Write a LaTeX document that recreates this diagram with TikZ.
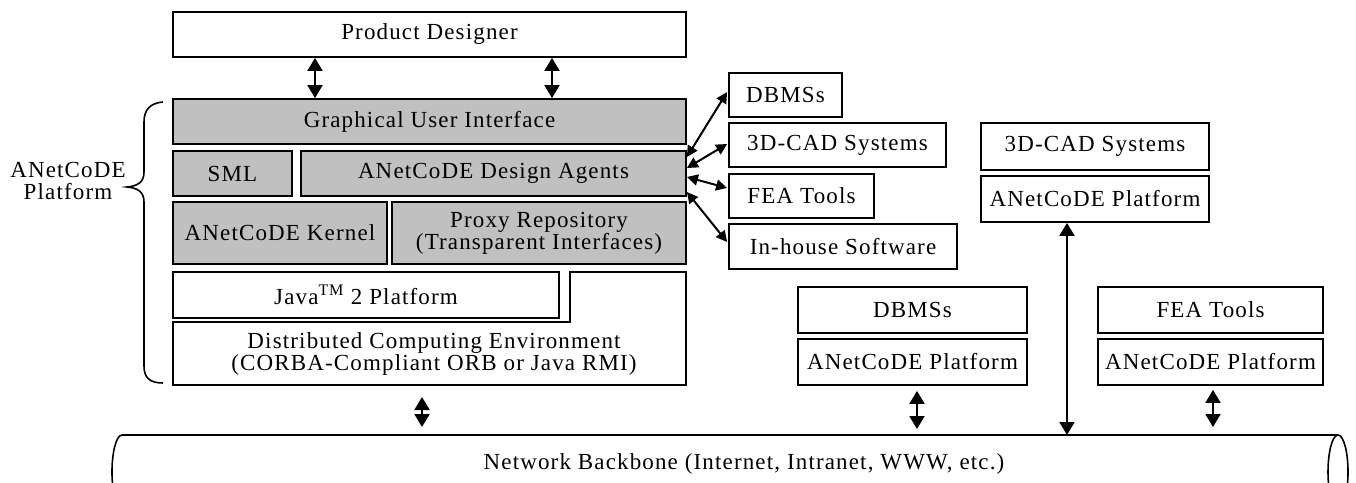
\documentclass[tikz,border=0pt]{standalone}
\usepackage{fontspec}
\setmainfont{Liberation Serif}[LetterSpace=5]
\usetikzlibrary{arrows.meta}
\definecolor{layergray}{HTML}{C0C0C0}
\begin{document}
\begin{tikzpicture}[x=1pt,y=-1pt,
  every node/.style={font=\fontsize{23}{22}\selectfont, inner sep=0pt},
  box/.style={draw, line width=1.8pt},
  layer/.style={box, fill=layergray},
  link/.style={line width=2pt, {Triangle[length=13pt,width=15pt]}-{Triangle[length=13pt,width=15pt]}},
  slink/.style={line width=2pt, {Triangle[length=11pt,width=11pt]}-{Triangle[length=11pt,width=11pt]}}
]
\useasboundingbox (0,0) rectangle (1356,482);
\clip (0,0) rectangle (1356,482);

% user on top
\node[box, minimum width=513pt, minimum height=45pt] (pd) at (429.5,34.5) {Product Designer};

% platform layers
\node[layer, minimum width=513pt, minimum height=45pt] (gui) at (429.5,121.5) {Graphical User Interface};
\node[layer, minimum width=119pt, minimum height=45pt] (sml) at (232.5,173.5) {SML};
\node[layer, minimum width=385pt, minimum height=45pt] (da) at (493.5,173.5) {ANetCoDE Design Agents};
\node[layer, minimum width=214pt, minimum height=62pt] (ker) at (280,233) {ANetCoDE Kernel};
\node[layer, minimum width=294pt, minimum height=62pt, align=center] (prx) at (539,233) {Proxy Repository\\(Transparent Interfaces)};
\node[box, minimum width=386pt, minimum height=46pt] (jav) at (366,295) {Java\textsuperscript{TM} 2 Platform};

% distributed computing environment (stepped outline)
\draw[line width=1.8pt] (173,322) -- (570,322) -- (570,272) -- (686,272) -- (686,385) -- (173,385) -- cycle;
\node[align=center] (dce) at (434,353.5) {Distributed Computing Environment\\(CORBA-Compliant ORB or Java RMI)};
\coordinate (dcebot) at (422,385);

% brace and platform label
\draw[line width=1.6pt] (163,102) .. controls (150,103) and (144,110) .. (144,122) -- (144,172)
  .. controls (144,182) and (138,186) .. (127,187) .. controls (138,188) and (144,192) .. (144,202)
  -- (144,366) .. controls (144,378) and (150,383) .. (163,383);
\node[align=center] (plat) at (68,181) {ANetCoDE\\Platform};

% local tools
\node[box, minimum width=113pt, minimum height=44pt] (rdb) at (785.5,95) {DBMSs};
\node[box, minimum width=217pt, minimum height=44pt] (rcad) at (837.5,145) {3D-CAD Systems};
\node[box, minimum width=145pt, minimum height=44pt] (rfea) at (801.5,196) {FEA Tools};
\node[box, minimum width=228pt, minimum height=45pt] (rinh) at (843,246.5) {In-house Software};

% remote systems
\node[box, minimum width=228pt, minimum height=47pt] (cad2) at (1095,146.5) {3D-CAD Systems};
\node[box, minimum width=228pt, minimum height=46pt] (cadp) at (1095,199) {ANetCoDE Platform};
\node[box, minimum width=229pt, minimum height=46pt] (db2) at (912.5,310) {DBMSs};
\node[box, minimum width=229pt, minimum height=46pt] (dbp) at (912.5,362) {ANetCoDE Platform};
\node[box, minimum width=225pt, minimum height=46pt] (fea2) at (1210.5,310) {FEA Tools};
\node[box, minimum width=225pt, minimum height=46pt] (feap) at (1210.5,362) {ANetCoDE Platform};

% network backbone (horizontal cylinder)
\draw[line width=1.6pt] (122,435) -- (1338,435);
\draw[line width=1.6pt] (122,435) arc[start angle=90, end angle=270, x radius=10pt, y radius=37pt];
\draw[line width=1.6pt] (122,509) -- (1338,509);
\draw[line width=1.6pt] (1338,472) ellipse[x radius=10pt, y radius=37pt];
\node (nb) at (744,464) {Network Backbone (Internet, Intranet, WWW, etc.)};
\coordinate (bb1) at (422,435);
\coordinate (bb2) at (917,435);
\coordinate (bb3) at (1067,435);
\coordinate (bb4) at (1213,435);

% connectors
\draw[link] (pd.south -| 315,0) -- (gui.north -| 315,0);
\draw[link] (pd.south -| 552,0) -- (gui.north -| 552,0);
\draw[slink] ([yshift=16.5pt]da.east) -- ([yshift=3pt,xshift=-1pt]rdb.west);
\draw[slink] ([yshift=5.5pt]da.east) -- ([yshift=1pt,xshift=-1pt]rcad.west);
\draw[slink] ([yshift=-3.5pt]da.east) -- ([yshift=8pt,xshift=-1pt]rfea.west);
\draw[slink] ([yshift=-18.5pt]da.east) -- ([yshift=4.5pt,xshift=-1pt]rinh.west);
\draw[link, shorten <=12pt, shorten >=8pt] (dcebot) -- (bb1);
\draw[link, shorten <=5pt, shorten >=6pt] (dbp.south -| bb2) -- (bb2);
\draw[link] (cadp.south -| bb3) -- (bb3);
\draw[link, shorten <=4pt, shorten >=8pt] (feap.south -| bb4) -- (bb4);
\end{tikzpicture}
\end{document}
